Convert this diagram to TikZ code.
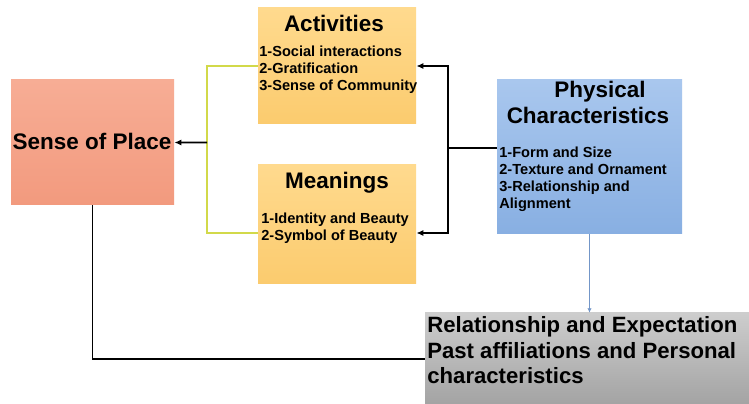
\documentclass[tikz,border=0pt]{standalone}
\usepackage{fontspec}
\setsansfont{Liberation Sans}
\usetikzlibrary{fit,calc,arrows.meta}
\definecolor{spTop}{HTML}{F7AD95}
\definecolor{spBot}{HTML}{F29A7E}
\definecolor{orTop}{HTML}{FFDA8E}
\definecolor{orBot}{HTML}{FBCB6E}
\definecolor{bluTop}{HTML}{A9C7EE}
\definecolor{bluBot}{HTML}{88AFE2}
\definecolor{gryTop}{HTML}{CDCDCD}
\definecolor{gryBot}{HTML}{A3A3A3}
\definecolor{yline}{HTML}{D2D94A}
\definecolor{bline}{HTML}{7396C8}

\begin{document}
\begin{tikzpicture}[x=0.02cm,y=-0.02cm,
  box/.style={inner sep=0,draw=none},
  ttl/.style={font=\fontsize{12.8}{14}\selectfont\bfseries,anchor=base,inner sep=0},
  item/.style={font=\fontsize{8.3}{10}\selectfont\bfseries,anchor=base west,inner sep=0},
  big/.style={font=\fontsize{12.6}{14}\selectfont\bfseries,anchor=base west,inner sep=0},
  arr/.style={-{Latex[length=4pt,width=3.5pt]},black,line width=0.9pt}]
\sf
\path[use as bounding box,fill=white] (0,0) rectangle (749,404);
% boxes
\node[box,fit={(11,80) (174,205)},top color=spTop,bottom color=spBot] (sop) {};
\node[box,fit={(258,8) (416,124)},top color=orTop,bottom color=orBot] (act) {};
\node[box,fit={(258,165) (416,284)},top color=orTop,bottom color=orBot] (mean) {};
\node[box,fit={(497,80) (682,234)},top color=bluTop,bottom color=bluBot] (phys) {};
\node[box,fit={(425,313) (755,405)},top color=gryTop,bottom color=gryBot] (rel) {};
% titles
\node[ttl] (sopt) at (92,150) {Sense of Place};
\node[ttl] (actt) at (334,32) {Activities};
\node[ttl] (meant) at (337,189) {Meanings};
\node[ttl] (phyt1) at (600,98) {Physical};
\node[ttl] (phyt2) at (588,124) {Characteristics};
% lists
\foreach \t [count=\i] in {1-Social interactions,2-Gratification,3-Sense of Community}
  \node[item] (act\i) at (259,40+17*\i) {\t};
\foreach \t [count=\i] in {1-Identity and Beauty,2-Symbol of Beauty}
  \node[item] (mean\i) at (261,207+17*\i) {\t};
\foreach \t [count=\i] in {1-Form and Size,2-Texture and Ornament,3-Relationship and,Alignment}
  \node[item] (phy\i) at (499,141+17*\i) {\t};
\foreach \t [count=\i] in {Relationship and Expectation,Past affiliations and Personal,characteristics}
  \node[big] (rel\i) at (427,308+25*\i) {\t};
% connectors
\coordinate (jn) at (207,142.5);
\coordinate (kb) at (448,148);
\draw[yline,line width=0.9pt] (act.west) -| (jn) |- ($(mean.west)+(0,8.5)$);
\draw[arr] (jn) -- (sop.east);
\draw[arr] ($(phys.west)+(0,-9)$) -- (kb) |- (act.east);
\draw[arr] (kb) |- ($(mean.east)+(0,8.5)$);
\draw[bline,line width=0.9pt,-{Latex[length=2.5pt,width=2.5pt]}] (phys.south) -- (phys.south |- rel.north);
\draw[black,line width=0.9pt] (sop.south) |- (rel.west);

\end{tikzpicture}
\end{document}
